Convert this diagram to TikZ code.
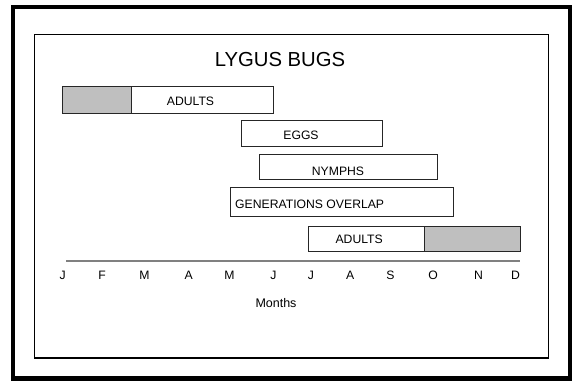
\documentclass[tikz,border=0pt]{standalone}
\usepackage{fontspec}
\setmainfont{Liberation Sans}
\begin{document}
\begin{tikzpicture}[x=1pt,y=-1pt,
  bar/.style={draw=black!85,line width=1pt,fill=white,inner sep=0pt,outer sep=0pt},
  graybar/.style={bar,fill=black!25},
  lbl/.style={inner sep=0pt,font=\fontsize{12.2}{14}\selectfont},
  month/.style={inner sep=0pt,font=\fontsize{12.2}{14}\selectfont},
  titlefont/.style={inner sep=0pt,font=\fontsize{20.3}{24}\selectfont}]
\useasboundingbox (0,0) rectangle (572,381);
% outer frame
\draw[line width=4.5pt] (13,7) rectangle (570,378.5);
% inner frame
\draw[line width=1.2pt] (34.3,34.3) rectangle (548.3,358);
% title
\node[titlefont] (title) at (280,59.7) {LYGUS BUGS};
% row 1: adults
\node[graybar,minimum width=68.7pt,minimum height=26.6pt] (ad1g) at (96.65,100) {};
\node[bar,minimum width=142pt,minimum height=26.6pt] (ad1w) at (202,100) {};
\node[lbl] (ad1t) at (190.5,101.4) {ADULTS};
% row 2: eggs
\node[bar,minimum width=141pt,minimum height=26.6pt] (eggs) at (312.2,133.5) {};
\node[lbl] (eggst) at (301,135) {EGGS};
% row 3: nymphs
\node[bar,minimum width=178.3pt,minimum height=24.7pt] (nym) at (348.15,167.15) {};
\node[lbl] (nymt) at (338,171) {NYMPHS};
% row 4: generations overlap
\node[bar,minimum width=223.3pt,minimum height=29.5pt] (gen) at (341.65,201.95) {};
\node[lbl,anchor=west] (gent) at (235,204.7) {GENERATIONS OVERLAP};
% row 5: adults
\node[bar,minimum width=115.7pt,minimum height=25.8pt] (ad2w) at (366.15,238.9) {};
\node[graybar,minimum width=96pt,minimum height=25.8pt] (ad2g) at (472,238.9) {};
\node[lbl] (ad2t) at (359.2,239.3) {ADULTS};
% axis
\coordinate (axl) at (66,260.7);
\coordinate (axr) at (520,260.7);
\draw[line width=2pt,black!50] (axl) -- (axr);
% months
\node[month] (m1) at (62.7,275.5) {J};
\node[month] (m2) at (102,275.5) {F};
\node[month] (m3) at (144.4,275.5) {M};
\node[month] (m4) at (188.6,275.5) {A};
\node[month] (m5) at (229.5,275.5) {M};
\node[month] (m6) at (273.5,275.5) {J};
\node[month] (m7) at (311,275.5) {J};
\node[month] (m8) at (350.2,275.5) {A};
\node[month] (m9) at (390.4,275.5) {S};
\node[month] (m10) at (433,275.5) {O};
\node[month] (m11) at (478.5,275.5) {N};
\node[month] (m12) at (515.6,275.5) {D};
\node[inner sep=0pt,font=\fontsize{12.5}{14}\selectfont] (months) at (276,302.8) {Months};
\end{tikzpicture}
\end{document}
